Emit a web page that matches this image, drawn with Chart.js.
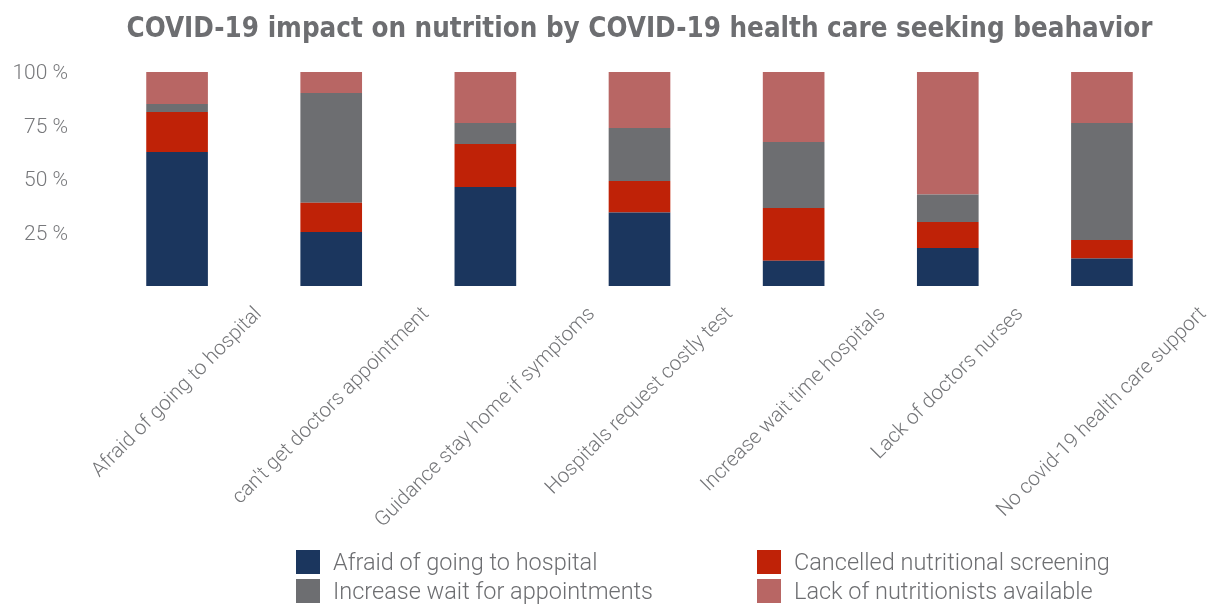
<!DOCTYPE html>
<html>
<head>
<meta charset="utf-8">
<script src="https://cdn.jsdelivr.net/npm/chart.js@4"></script>
<style>
  html, body { margin: 0; padding: 0; background: #fff; }
  #wrap { position: relative; width: 1220px; height: 606px; }
  #chart { position: absolute; left: 0; top: 0; }
  .legend { position: absolute; font-family: Roboto, sans-serif; font-weight: 300; font-size: 23.5px; color: #6d6e71; white-space: nowrap; }
  .legend .item { position: absolute; height: 26px; line-height: 26px; }
  .legend .sw { position: absolute; left: 0; top: 1px; width: 24px; height: 24px; }
  .legend .txt { position: absolute; left: 37px; top: 0; }
</style>
</head>
<body>
<div id="wrap">
  <canvas id="chart" width="1220" height="606"></canvas>
  <div class="legend" id="legend"></div>
</div>
<script>
// Health care seeking behaviour categories
const categories = [
  "Afraid of going to hospital",
  "can't get doctors appointment",
  "Guidance stay home if symptoms",
  "Hospitals request costly test",
  "Increase wait time hospitals",
  "Lack of doctors nurses",
  "No covid-19 health care support"
];

// Share of each nutrition impact (percent of the category)
const afraidHospital   = [62.6, 25.2, 46.3, 34.3, 11.8, 17.8, 12.8];
const cancelledScreen  = [18.7, 13.7, 20.1, 14.8, 24.6, 12.1,  8.7];
const increaseWait     = [ 3.7, 51.3,  9.8, 24.7, 30.9, 12.8, 54.7];
const lackNutritionist = [15.0,  9.8, 23.8, 26.2, 32.7, 57.3, 23.8];

const seriesNames = [
  "Afraid of going to hospital",
  "Cancelled nutritional screening",
  "Increase wait for appointments",
  "Lack of nutritionists available"
];
const seriesColors = ["#1b365e", "#bf2207", "#6d6e71", "#b86664"];

const yTicks = [25, 50, 75, 100];

const seriesValues = [afraidHospital, cancelledScreen, increaseWait, lackNutritionist];

// Slanted category labels: each rotated label's box is centred under its bar
const slantedLabels = {
  id: 'slantedLabels',
  afterDraw(chart) {
    const { ctx, scales: { x } } = chart;
    const a = Math.PI / 4, c = Math.cos(a);
    ctx.save();
    ctx.font = '300 20.5px Roboto, sans-serif';
    ctx.fillStyle = '#747578';
    ctx.textAlign = 'right';
    ctx.textBaseline = 'middle';
    categories.forEach((lab, i) => {
      const w = ctx.measureText(lab).width;
      const px = x.getPixelForValue(i);
      const ex = px + w * c / 2;
      const ey = x.top + 25;
      ctx.save();
      ctx.translate(ex, ey);
      ctx.rotate(-a);
      ctx.fillText(lab, 0, 0);
      ctx.restore();
    });
    ctx.restore();
  }
};

const chart = new Chart(document.getElementById('chart'), {
  type: 'bar',
  data: {
    labels: categories,
    datasets: seriesNames.map((name, i) => ({
      label: name,
      data: seriesValues[i],
      backgroundColor: seriesColors[i],
      borderWidth: 0,
      categoryPercentage: 1,
      barPercentage: 0.4
    }))
  },
  options: {
    responsive: false,
    animation: false,
    layout: { padding: { left: 10, right: 41, top: 0, bottom: 0 } },
    plugins: {
      legend: { display: false },
      tooltip: { enabled: false },
      title: {
        display: true,
        fullSize: false,
        text: 'COVID-19 impact on nutrition by COVID-19 health care seeking beahavior',
        color: '#6d6e71',
        font: { family: "'DejaVu Sans Condensed', Roboto, sans-serif", size: 27.5, weight: 'bold', lineHeight: 1.2 },
        padding: { top: 13, bottom: 26 }
      }
    },
    scales: {
      x: {
        stacked: true,
        grid: { display: false },
        border: { display: false },
        ticks: { display: false },
        afterFit(scale) { scale.height = 320; }
      },
      y: {
        stacked: true,
        min: 0,
        max: 100,
        afterBuildTicks(scale) { scale.ticks = [0, ...yTicks].map(v => ({ value: v })); },
        grid: { display: false, drawTicks: false },
        border: { display: false },
        ticks: {
          padding: 32,
          labelOffset: 2,
          color: '#77787b',
          font: { family: 'Roboto, sans-serif', size: 21, weight: 300 },
          callback: v => (v === 0 ? '' : v + ' %')
        },
        afterFit(scale) { scale.width = 90; }
      }
    }
  },
  plugins: [slantedLabels]
});

// Legend in two columns below the plot
const legend = document.getElementById('legend');
const legendPos = [[296, 549], [757, 549], [296, 578], [757, 578]];
seriesNames.forEach((name, si) => {
  const item = document.createElement('div');
  item.className = 'item';
  item.style.left = legendPos[si][0] + 'px';
  item.style.top = legendPos[si][1] + 'px';
  const sw = document.createElement('span');
  sw.className = 'sw';
  sw.style.background = seriesColors[si];
  const txt = document.createElement('span');
  txt.className = 'txt';
  txt.textContent = name;
  item.appendChild(sw);
  item.appendChild(txt);
  legend.appendChild(item);
});
</script>
</body>
</html>
